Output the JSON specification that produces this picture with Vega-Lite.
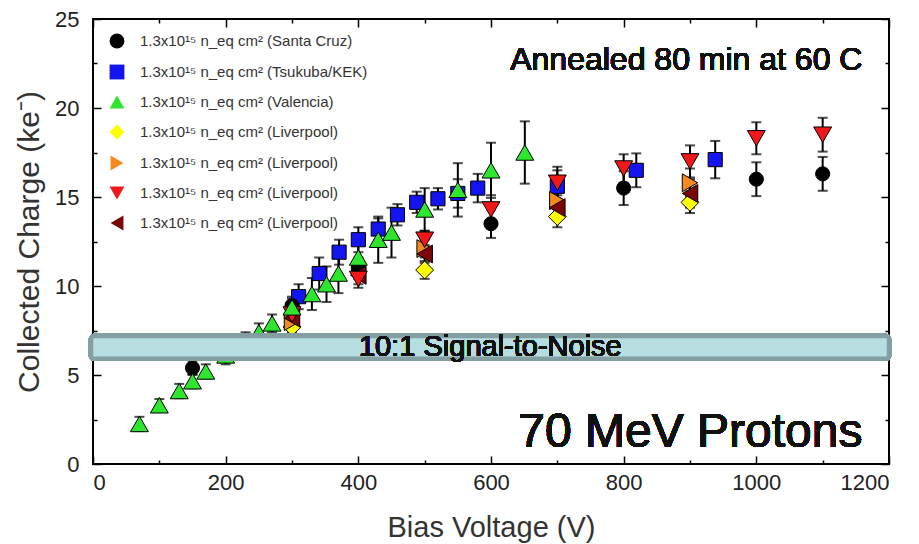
{
  "$schema": "https://vega.github.io/schema/vega-lite/v6.json",
  "autosize": "none",
  "width": 796,
  "height": 445,
  "padding": {"left": 93, "top": 19, "right": 30, "bottom": 80},
  "background": "white",
  "config": {
    "view": {"stroke": "#000", "strokeWidth": 2},
    "font": "Liberation Sans",
    "axis": {"grid": false, "domain": false, "tickColor": "#000", "tickWidth": 1.5, "labelFont": "Liberation Sans", "titleFont": "Liberation Sans", "labelColor": "#222", "titleColor": "#333", "titleFontWeight": "normal"},
    "legend": {"labelFontSize": 15, "labelLimit": 400, "labelColor": "#333", "labelFont": "Liberation Sans", "labelOffset": 15, "symbolSize": 220, "symbolStrokeColor": "#000", "symbolStrokeWidth": 1, "symbolOpacity": 1, "rowPadding": 11}
  },
  "data": {"values": [
    {"series": "Tsukuba/KEK", "v": 310, "q": 9.4, "err": 0.7},
    {"series": "Tsukuba/KEK", "v": 341, "q": 10.7, "err": 0.9},
    {"series": "Tsukuba/KEK", "v": 371, "q": 11.9, "err": 0.7},
    {"series": "Tsukuba/KEK", "v": 400, "q": 12.6, "err": 0.7},
    {"series": "Tsukuba/KEK", "v": 430, "q": 13.2, "err": 0.6},
    {"series": "Tsukuba/KEK", "v": 459, "q": 14.0, "err": 0.6},
    {"series": "Tsukuba/KEK", "v": 488, "q": 14.7, "err": 0.6},
    {"series": "Tsukuba/KEK", "v": 520, "q": 14.9, "err": 0.6},
    {"series": "Tsukuba/KEK", "v": 550, "q": 15.2, "err": 0.8},
    {"series": "Tsukuba/KEK", "v": 580, "q": 15.5, "err": 0.8},
    {"series": "Tsukuba/KEK", "v": 700, "q": 15.6, "err": 0.9},
    {"series": "Tsukuba/KEK", "v": 819, "q": 16.5, "err": 0.95},
    {"series": "Tsukuba/KEK", "v": 938, "q": 17.1, "err": 1.05},
    {"series": "Liverpool A", "v": 300, "q": 7.7, "err": 0.3},
    {"series": "Liverpool A", "v": 500, "q": 10.9, "err": 0.5},
    {"series": "Liverpool A", "v": 700, "q": 13.9, "err": 0.6},
    {"series": "Liverpool A", "v": 900, "q": 14.7, "err": 0.6},
    {"series": "Liverpool B", "v": 300, "q": 8.0, "err": 0.4},
    {"series": "Liverpool B", "v": 500, "q": 12.1, "err": 0.5},
    {"series": "Liverpool B", "v": 700, "q": 14.8, "err": 0.7},
    {"series": "Liverpool B", "v": 900, "q": 15.8, "err": 0.8},
    {"series": "Liverpool D", "v": 300, "q": 8.2, "err": 0.4},
    {"series": "Liverpool D", "v": 400, "q": 10.6, "err": 0.5},
    {"series": "Liverpool D", "v": 500, "q": 11.8, "err": 0.5},
    {"series": "Liverpool D", "v": 700, "q": 14.4, "err": 0.7},
    {"series": "Liverpool D", "v": 900, "q": 15.2, "err": 0.8},
    {"series": "Liverpool C", "v": 300, "q": 8.4, "err": 0.4},
    {"series": "Liverpool C", "v": 400, "q": 10.4, "err": 0.5},
    {"series": "Liverpool C", "v": 500, "q": 12.6, "err": 0.5},
    {"series": "Liverpool C", "v": 600, "q": 14.3, "err": 0.8},
    {"series": "Liverpool C", "v": 700, "q": 15.8, "err": 0.9},
    {"series": "Liverpool C", "v": 800, "q": 16.6, "err": 0.8},
    {"series": "Liverpool C", "v": 900, "q": 17.0, "err": 0.9},
    {"series": "Liverpool C", "v": 1000, "q": 18.3, "err": 0.9},
    {"series": "Liverpool C", "v": 1100, "q": 18.5, "err": 0.95},
    {"series": "Santa Cruz", "v": 150, "q": 5.4, "err": 0.4},
    {"series": "Santa Cruz", "v": 300, "q": 8.9, "err": 0.5},
    {"series": "Santa Cruz", "v": 400, "q": 11.0, "err": 0.6},
    {"series": "Santa Cruz", "v": 600, "q": 13.5, "err": 0.8},
    {"series": "Santa Cruz", "v": 700, "q": 14.6, "err": 0.9},
    {"series": "Santa Cruz", "v": 800, "q": 15.5, "err": 0.95},
    {"series": "Santa Cruz", "v": 1000, "q": 16.0, "err": 0.95},
    {"series": "Santa Cruz", "v": 1100, "q": 16.3, "err": 0.95},
    {"series": "Valencia", "v": 70, "q": 2.25, "err": 0.4},
    {"series": "Valencia", "v": 100, "q": 3.3, "err": 0.35},
    {"series": "Valencia", "v": 130, "q": 4.1, "err": 0.4},
    {"series": "Valencia", "v": 150, "q": 4.65, "err": 0.4},
    {"series": "Valencia", "v": 170, "q": 5.2, "err": 0.4},
    {"series": "Valencia", "v": 200, "q": 6.1, "err": 0.5},
    {"series": "Valencia", "v": 230, "q": 6.9, "err": 0.5},
    {"series": "Valencia", "v": 250, "q": 7.4, "err": 0.5},
    {"series": "Valencia", "v": 270, "q": 7.9, "err": 0.5},
    {"series": "Valencia", "v": 300, "q": 8.8, "err": 0.5},
    {"series": "Valencia", "v": 330, "q": 9.55, "err": 0.9},
    {"series": "Valencia", "v": 352, "q": 10.1, "err": 1.0},
    {"series": "Valencia", "v": 370, "q": 10.7, "err": 1.1},
    {"series": "Valencia", "v": 400, "q": 11.6, "err": 1.0},
    {"series": "Valencia", "v": 430, "q": 12.6, "err": 1.3},
    {"series": "Valencia", "v": 450, "q": 13.0, "err": 1.4},
    {"series": "Valencia", "v": 500, "q": 14.3, "err": 1.2},
    {"series": "Valencia", "v": 550, "q": 15.4, "err": 1.5},
    {"series": "Valencia", "v": 600, "q": 16.5, "err": 1.55},
    {"series": "Valencia", "v": 651, "q": 17.5, "err": 1.75}
  ]},
  "resolve": {"axis": {"x": "independent", "y": "independent"}},
  "layer": [
    {
      "mark": {"type": "errorbar", "color": "#000", "thickness": 2, "ticks": {"size": 10, "thickness": 2, "color": "#000"}},
      "encoding": {
        "x": {"field": "v", "type": "quantitative", "scale": {"domain": [0, 1200], "nice": false},
              "axis": {"orient": "bottom", "values": [0, 200, 400, 600, 800, 1000, 1200], "format": "d", "tickSize": -8, "labelPadding": 16, "labelFontSize": 22, "title": "Bias Voltage (V)", "titleFontSize": 29, "titlePadding": 20}},
        "y": {"field": "q", "type": "quantitative", "scale": {"domain": [0, 25], "nice": false},
              "axis": {"orient": "left", "values": [0, 5, 10, 15, 20, 25], "tickSize": -8, "labelPadding": 22, "labelFontSize": 22, "title": "Collected Charge (ke⁻)", "titleFontSize": 30, "titlePadding": 10}},
        "yError": {"field": "err"},
        "detail": {"field": "series"}
      }
    },
    {
      "transform": [{"filter": {"field": "series", "oneOf": ["Santa Cruz", "Tsukuba/KEK"]}}],
      "mark": {"type": "point", "filled": true, "stroke": "#000", "strokeWidth": 1, "opacity": 1, "size": 200},
      "encoding": {
        "x": {"field": "v", "type": "quantitative", "axis": {"orient": "top", "values": [0, 200, 400, 600, 800, 1000, 1200], "tickSize": -8, "labels": false, "title": null}},
        "y": {"field": "q", "type": "quantitative", "axis": {"orient": "right", "values": [0, 5, 10, 15, 20, 25], "tickSize": -8, "labels": false, "title": null}},
        "fill": {"field": "series", "type": "nominal",
          "scale": {"domain": ["Santa Cruz", "Tsukuba/KEK", "Valencia", "Liverpool A", "Liverpool B", "Liverpool C", "Liverpool D"],
                    "range": ["#000000", "#1414f0", "#2ee62e", "#ffff00", "#f58a1f", "#f01818", "#7a0606"]},
          "legend": {"orient": "none", "legendX": 16, "legendY": 14, "title": null,
            "labelExpr": "'1.3x10¹⁵ n_eq cm² (' + (substring(datum.label, 0, 9) === 'Liverpool' ? 'Liverpool' : datum.label) + ')'",
            "labelFontSize": 15, "labelLimit": 400, "rowPadding": 11}},
        "shape": {"field": "series", "type": "nominal",
          "scale": {"domain": ["Santa Cruz", "Tsukuba/KEK", "Valencia", "Liverpool A", "Liverpool B", "Liverpool C", "Liverpool D"],
                    "range": ["circle", "square", "triangle-up", "diamond", "triangle-right", "triangle-down", "triangle-left"]}}
      }
    },
    {
      "transform": [{"filter": {"field": "series", "oneOf": ["Liverpool A", "Liverpool B", "Liverpool D", "Liverpool C", "Valencia"]}}],
      "mark": {"type": "point", "filled": true, "stroke": "#000", "strokeWidth": 1, "opacity": 1, "size": 320},
      "encoding": {
        "x": {"field": "v", "type": "quantitative", "axis": null},
        "y": {"field": "q", "type": "quantitative", "axis": null},
        "fill": {"field": "series", "type": "nominal"},
        "shape": {"field": "series", "type": "nominal"}
      }
    },
    {
      "mark": {"type": "rect", "fill": "#b6dde0", "stroke": "#849fa1", "strokeWidth": 4.5, "cornerRadius": 3},
      "encoding": {
        "x": {"datum": -3, "type": "quantitative", "axis": {"orient": "bottom", "values": [100, 300, 500, 700, 900, 1100], "tickSize": -4, "labels": false, "title": null}},
        "x2": {"datum": 1200},
        "y": {"datum": 5.91, "type": "quantitative", "axis": {"orient": "left", "values": [2.5, 7.5, 12.5, 17.5, 22.5], "tickSize": -4, "labels": false, "title": null}},
        "y2": {"datum": 7.19}
      }
    },
    {
      "mark": {"type": "text", "text": "10:1 Signal-to-Noise", "fontSize": 29, "font": "Liberation Sans", "color": "#111", "align": "center", "baseline": "middle"},
      "encoding": {
        "x": {"datum": 599, "type": "quantitative", "axis": {"orient": "top", "values": [100, 300, 500, 700, 900, 1100], "tickSize": -4, "labels": false, "title": null}},
        "y": {"datum": 6.55, "type": "quantitative", "axis": {"orient": "right", "values": [2.5, 7.5, 12.5, 17.5, 22.5], "tickSize": -4, "labels": false, "title": null}}
      }
    },
    {
      "mark": {"type": "text", "text": "Annealed 80 min at 60 C", "fontSize": 32, "font": "Liberation Sans", "color": "#111", "align": "right", "baseline": "middle"},
      "encoding": {
        "x": {"datum": 1160, "type": "quantitative", "axis": null},
        "y": {"datum": 22.7, "type": "quantitative", "axis": null}
      }
    },
    {
      "mark": {"type": "text", "text": "70 MeV Protons", "fontSize": 48, "font": "Liberation Sans", "color": "#111", "align": "right", "baseline": "alphabetic"},
      "encoding": {
        "x": {"datum": 1160, "type": "quantitative", "axis": null},
        "y": {"datum": 0.95, "type": "quantitative", "axis": null}
      }
    }
  ]
}
